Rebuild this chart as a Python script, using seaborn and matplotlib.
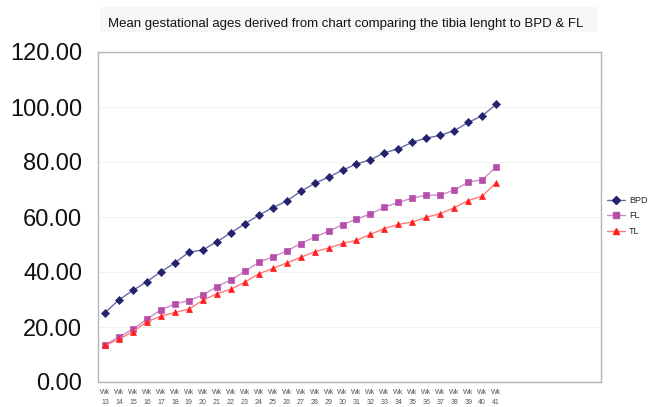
import matplotlib
matplotlib.use("Agg")
import matplotlib.pyplot as plt
import matplotlib.patches as mpatches
import seaborn as sns
import pandas as pd

weeks = list(range(13, 42))
week_labels = [f"Wk\n{w}" for w in weeks]
bpd = [25.2, 29.9, 33.3, 36.5, 40.1, 43.3, 47.2, 48.0, 51.0, 54.2, 57.5, 60.6, 63.4, 65.8,
       69.3, 72.2, 74.5, 77.0, 79.3, 80.8, 83.4, 84.8, 87.2, 88.7, 89.7, 91.4, 94.4, 96.8, 101.0]
fl = [13.5, 16.4, 19.2, 22.9, 26.2, 28.4, 29.6, 31.6, 34.7, 37.1, 40.2, 43.5, 45.5, 47.6,
      50.3, 52.7, 54.8, 57.2, 59.2, 61.1, 63.6, 65.3, 66.9, 67.9, 68.0, 69.8, 72.7, 73.5, 78.2]
tl = [13.3, 15.6, 18.3, 21.9, 23.9, 25.3, 26.5, 29.7, 32.1, 33.7, 36.3, 39.3, 41.3, 43.3,
      45.3, 47.4, 48.7, 50.4, 51.5, 53.7, 55.8, 57.3, 58.2, 59.9, 61.2, 63.4, 66.0, 67.6, 72.5]
series_names = ["BPD", "FL", "TL"]
title = "Mean gestational ages derived from chart comparing the tibia lenght to BPD & FL"

rows = []
for name, vals in zip(series_names, [bpd, fl, tl]):
    for i, v in enumerate(vals):
        rows.append({"idx": i, "value": v, "series": name})
df = pd.DataFrame(rows)

sns.set_theme(style="white")
plt.rcParams['font.family'] = ['Liberation Sans', 'DejaVu Sans']

W, H = 662, 407
fig = plt.figure(figsize=(W/100, H/100), dpi=100, facecolor="white")
ax = fig.add_axes([98/W, 1 - 382/H, (601-98)/W, (382-52)/H])

styles = {
    "BPD": dict(marker="D", mc="#24246e", lc="#6a6aa8", ms=3.6),
    "FL": dict(marker="s", mc="#b54fab", lc="#cf8ec8", ms=4.6),
    "TL": dict(marker="^", mc="#ff1f1f", lc="#ff7a7a", ms=5.0),
}
for name in series_names:
    st = styles[name]
    sns.lineplot(data=df[df.series == name], x="idx", y="value", ax=ax,
                 color=st["lc"], marker=st["marker"], markersize=st["ms"],
                 markerfacecolor=st["mc"], markeredgecolor=st["mc"], markeredgewidth=0.5,
                 linewidth=1.0, label=name, legend=False)

ax.set_xlim(-0.5, 35.5)
ax.set_ylim(0, 120)
yt = [0, 20, 40, 60, 80, 100, 120]
ax.set_yticks(yt)
ax.set_yticklabels([f"{v:.2f}" for v in yt], fontsize=17, color="#111111")
ax.set_xticks(range(len(weeks)))
ax.set_xticklabels(week_labels, fontsize=5, color="#555555", linespacing=1.55)
ax.tick_params(axis="y", length=0, pad=11.5)
ax.tick_params(axis="x", length=0, pad=5)
ax.set_xlabel("")
ax.set_ylabel("")
ax.grid(axis="y", color="#f2f2f2", linewidth=0.8)
for s in ax.spines.values():
    s.set_color("#b5b5b5")
    s.set_linewidth(1.0)

fig.patches.append(mpatches.Rectangle((100/W, 1 - 32/H), 498/W, 25/H, transform=fig.transFigure,
                                      facecolor="#f6f8f8", edgecolor="none", zorder=0))
fig.text(346/W, 1 - 24/H, title, ha="center", va="center", fontsize=9.5, color="#111111")

handles = [plt.Line2D([], [], color=styles[n]["lc"], marker=styles[n]["marker"],
                      markersize=styles[n]["ms"], markerfacecolor=styles[n]["mc"],
                      markeredgecolor=styles[n]["mc"], linewidth=1.0) for n in series_names]
fig.legend(handles, series_names, loc="center left", bbox_to_anchor=(599/W, 1 - 216/H),
           frameon=False, fontsize=6.5, handlelength=2.0, handletextpad=0.4, labelspacing=0.75)

fig.savefig("out.png", dpi=100, facecolor="white")
